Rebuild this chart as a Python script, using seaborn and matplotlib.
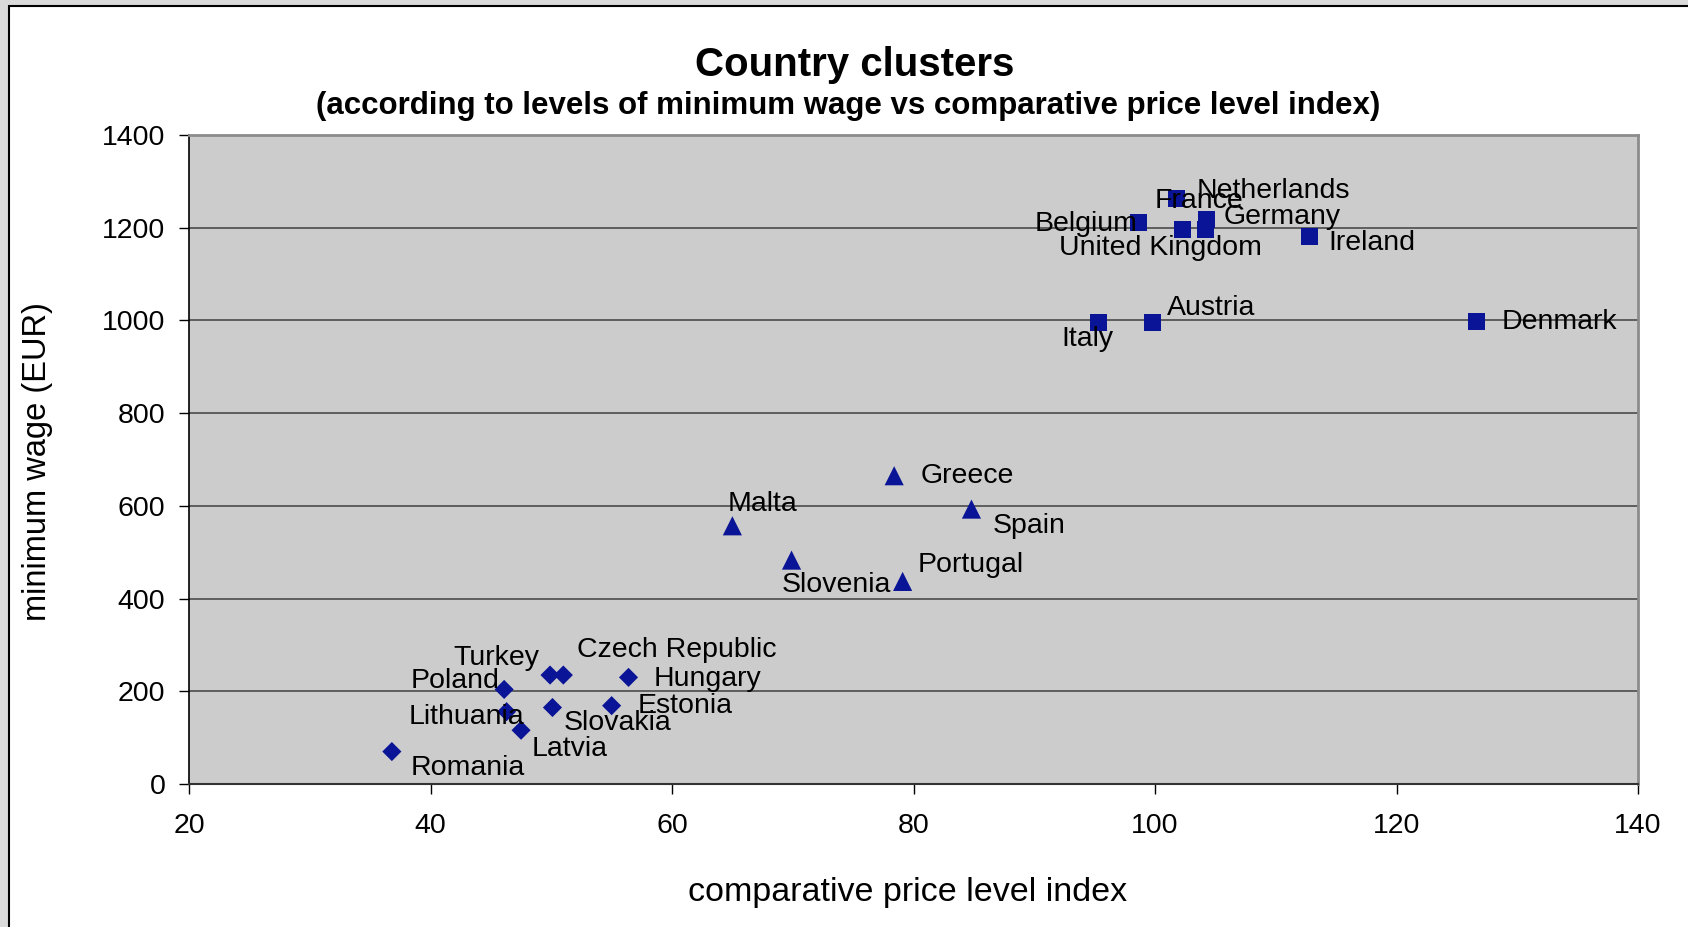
import matplotlib.pyplot as plt
import seaborn as sns
import pandas as pd
from matplotlib.patches import Rectangle

# Data
countries = ["France", "Netherlands", "Germany", "Belgium", "United Kingdom",
             "Ireland", "Italy", "Austria", "Denmark",
             "Greece", "Malta", "Spain", "Slovenia", "Portugal",
             "Czech Republic", "Turkey", "Poland", "Hungary", "Estonia",
             "Slovakia", "Lithuania", "Latvia", "Romania"]
price_index = [101.8, 104.3, 104.2, 98.6, 102.3,
               112.8, 95.3, 99.8, 126.6,
               78.4, 65.0, 84.8, 69.9, 79.1,
               51.0, 49.9, 46.1, 56.4, 55.0,
               50.1, 46.3, 47.5, 36.8]
min_wage = [1263, 1218, 1197, 1212, 1197,
            1182, 996, 996, 997,
            665, 557, 593, 483, 437,
            235, 235, 204, 230, 169,
            165, 156, 116, 70]
cluster = ["high"] * 9 + ["mid"] * 5 + ["low"] * 9

# label placement: offset in pixels from the marker, horizontal alignment
label_pos = {
    "France": (-22, 0, "left"), "Netherlands": (-10, 31, "left"),
    "Germany": (18, 15, "left"), "Belgium": (-1, 1, "right"),
    "United Kingdom": (-22, -16, "center"), "Ireland": (19, -4, "left"),
    "Italy": (-11, -14, "center"), "Austria": (14, 17, "left"),
    "Denmark": (25, 2, "left"), "Greece": (26, 2, "left"),
    "Malta": (-5, 24, "left"), "Spain": (21, -14, "left"),
    "Slovenia": (-10, -22, "left"), "Portugal": (15, 19, "left"),
    "Czech Republic": (14, 28, "left"), "Turkey": (-11, 20, "right"),
    "Poland": (-5, 11, "right"), "Hungary": (25, 1, "left"),
    "Estonia": (26, 2, "left"), "Slovakia": (11, -13, "left"),
    "Lithuania": (18, -3, "right"), "Latvia": (11, -16, "left"),
    "Romania": (19, -14, "left"),
}

df = pd.DataFrame({"country": countries, "price": price_index,
                   "wage": min_wage, "cluster": cluster})

plt.rcParams["font.family"] = ["Liberation Sans", "DejaVu Sans"]

W, H = 1688, 927
fig = plt.figure(figsize=(W / 100, H / 100), dpi=100)
fig.patch.set_facecolor("#dadada")
fig.add_artist(Rectangle((9 / W, -0.05), 1.1, 1 - 6 / H + 0.05,
                         transform=fig.transFigure, facecolor="white",
                         edgecolor="black", lw=1.5, zorder=-10))

ax = fig.add_axes([189 / W, 1 - 784 / H, (1638 - 189) / W, (784 - 135) / H])
ax.set_facecolor("#cccccc")

sns.scatterplot(data=df, x="price", y="wage", style="cluster", size="cluster",
                markers={"high": "s", "mid": "^", "low": "D"},
                sizes={"high": 150, "mid": 190, "low": 95},
                color="#0a1496", linewidth=0, legend=False, ax=ax, zorder=3)

for _, r in df.iterrows():
    dx, dy, ha = label_pos[r["country"]]
    ax.annotate(r["country"], (r["price"], r["wage"]), xytext=(dx, dy - 2.5),
                textcoords="offset pixels", ha=ha, va="center",
                fontsize=20.5, color="black", zorder=4)

ax.set_xlim(20, 140)
ax.set_ylim(0, 1400)
ax.set_xticks(range(20, 141, 20))
ax.set_yticks(range(0, 1401, 200))
ax.yaxis.grid(True, color="#5e5e5e", lw=1.4)
ax.set_axisbelow(True)
ax.tick_params(axis="both", labelsize=20.5, length=7, width=1, color="black")
ax.tick_params(axis="x", pad=14)
ax.tick_params(axis="y", pad=10)

for s in ["top", "right"]:
    ax.spines[s].set_color("#8c8c8c")
    ax.spines[s].set_linewidth(2)
ax.spines["left"].set_color("black")
ax.spines["left"].set_linewidth(1.2)
ax.spines["bottom"].set_color("#333333")
ax.spines["bottom"].set_linewidth(1.5)

ax.set_xlabel("")
ax.set_ylabel("")
fig.text(908 / W, 1 - 893 / H, "comparative price level index",
         ha="center", va="center", fontsize=24.5)
fig.text(38 / W, 1 - 462 / H, "minimum wage (EUR)", rotation=90,
         ha="center", va="center", fontsize=23.5)

fig.text(855 / W, 1 - 65 / H, "Country clusters", ha="center", va="center",
         fontsize=29, fontweight="bold")
fig.text(848 / W, 1 - 106 / H,
         "(according to levels of minimum wage vs comparative price level index)",
         ha="center", va="center", fontsize=22.5, fontweight="bold")

fig.savefig("out.png", dpi=100)
plt.close()
